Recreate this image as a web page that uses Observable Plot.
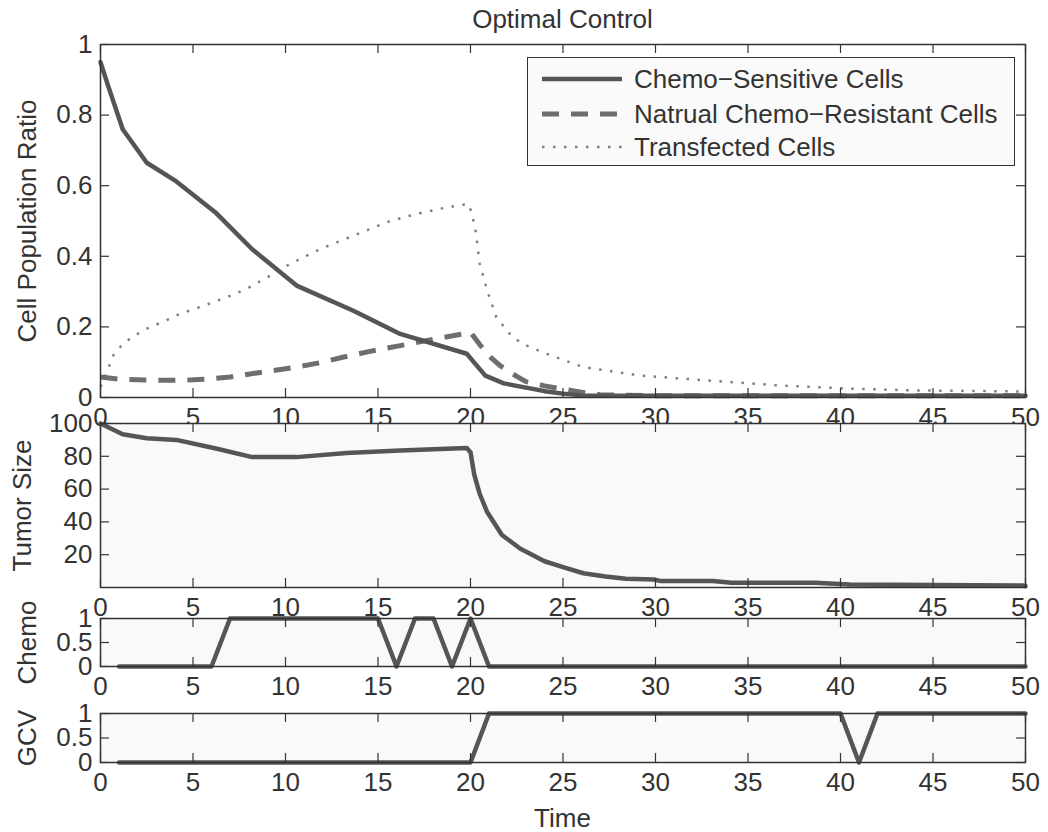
<!DOCTYPE html>
<html>
<head>
<meta charset="utf-8">
<script src="https://cdn.jsdelivr.net/npm/d3@7"></script>
<script src="https://cdn.jsdelivr.net/npm/@observablehq/plot@0.6"></script>
<style>
  body { margin: 0; background: #fff; }
  #wrap { position: relative; width: 1048px; height: 832px; font-family: "Liberation Sans", Arial, sans-serif; color: #333; overflow: hidden; }
  #wrap svg { position: absolute; left: 0; overflow: visible; }
  .txt { position: absolute; font-size: 26px; line-height: 26px; white-space: nowrap; color: #333; }
  #legend { position: absolute; left: 527px; top: 57px; width: 486px; height: 107px; background: #fafafa; border: 1.5px solid #333; }
  #legend .row { position: absolute; left: 0; height: 30px; display: flex; align-items: center; }
  #legend .row svg { position: static; margin-left: 14px; margin-right: 12px; }
  #legend .row span { font-size: 26px; line-height: 30px; }
</style>
</head>
<body>
<div id="wrap"></div>
<script>
// ---------- data ----------
const xTicks = [0, 5, 10, 15, 20, 25, 30, 35, 40, 45, 50];
const ratioTicks = [0, 0.2, 0.4, 0.6, 0.8, 1];
const tumorTicks = [20, 40, 60, 80, 100];
const controlTicks = [0, 0.5, 1];

const seriesNames = ["Chemo\u2212Sensitive Cells", "Natrual Chemo\u2212Resistant Cells", "Transfected Cells"];

const sensT = [0, 0.4, 1.2, 2.5, 4.1, 6.2, 8.2, 10.6, 13.7, 16.2, 19.8, 20.1, 20.8, 21.8, 23, 24, 25, 26, 27, 30, 35, 40, 45, 50];
const sensV = [0.95, 0.885, 0.76, 0.665, 0.612, 0.525, 0.42, 0.317, 0.245, 0.18, 0.124, 0.105, 0.062, 0.04, 0.028, 0.018, 0.011, 0.006, 0.005, 0.005, 0.005, 0.005, 0.005, 0.005];

const resT = [0, 1, 2, 3, 4, 5, 6, 7, 8, 9, 10.6, 12, 13.1, 14.5, 16.2, 18, 19.6, 20, 20.5, 21, 21.6, 22.5, 23, 24, 25, 26, 27, 30, 40, 50];
const resV = [0.058, 0.052, 0.05, 0.049, 0.049, 0.05, 0.053, 0.058, 0.066, 0.074, 0.086, 0.1, 0.114, 0.13, 0.147, 0.165, 0.18, 0.185, 0.15, 0.118, 0.09, 0.06, 0.045, 0.033, 0.024, 0.015, 0.008, 0.005, 0.005, 0.005];

const transT = [0, 0.4, 0.7, 1.0, 1.4, 2.0, 2.5, 3.4, 4.3, 5.2, 6.1, 7.0, 7.9, 9.0, 10.1, 11.0, 11.9, 12.8, 13.7, 14.6, 15.5, 16.5, 17.5, 18.4, 19.3, 19.9, 20.1, 20.3, 20.5, 20.9, 21.4, 22.2, 22.8, 24.1, 26.1, 29.2, 32.9, 36.7, 40.5, 44.2, 50];
const transV = [0.03, 0.08, 0.12, 0.14, 0.16, 0.18, 0.195, 0.215, 0.237, 0.253, 0.27, 0.288, 0.308, 0.34, 0.374, 0.398, 0.421, 0.44, 0.459, 0.478, 0.497, 0.512, 0.525, 0.535, 0.544, 0.548, 0.516, 0.464, 0.379, 0.303, 0.227, 0.175, 0.152, 0.124, 0.086, 0.062, 0.048, 0.034, 0.025, 0.02, 0.017];

const tumorT = [0, 1.2, 2.5, 4.1, 6.3, 8.2, 10.6, 13.3, 16.2, 19.8, 20.0, 20.2, 20.5, 20.9, 21.7, 22.7, 24, 25, 26.1, 27.3, 28.4, 29.9, 30.3, 33.1, 34.1, 38.6, 40.5, 45, 49.9, 50];
const tumorV = [100, 93.5, 91, 90, 84.6, 79.5, 79.5, 82, 83.5, 85, 82.5, 69, 57, 46, 32, 23.6, 16, 12.4, 8.7, 6.7, 5.3, 4.9, 3.9, 3.9, 2.9, 2.9, 1.8, 1.5, 1.2, 0.8];

const ctrlT = [1,2,3,4,5,6,7,8,9,10,11,12,13,14,15,16,17,18,19,20,21,22,23,24,25,26,27,28,29,30,31,32,33,34,35,36,37,38,39,40,41,42,43,44,45,46,47,48,49,50];
const chemoV = [0,0,0,0,0,0,1,1,1,1,1,1,1,1,1,0,1,1,0,1,0,0,0,0,0,0,0,0,0,0,0,0,0,0,0,0,0,0,0,0,0,0,0,0,0,0,0,0,0,0];
const gcvV   = [0,0,0,0,0,0,0,0,0,0,0,0,0,0,0,0,0,0,0,0,1,1,1,1,1,1,1,1,1,1,1,1,1,1,1,1,1,1,1,1,0,1,1,1,1,1,1,1,1,1];

// ---------- helpers ----------
const zip = (t, v) => t.map((d, i) => ({t: d, v: v[i]}));
const W = 1048, ML = 100, MR = 23, TICK = 9, FS = 26;
const INK = "#333";
const styles = {
  solid: {stroke: "#555", strokeWidth: 4.5},
  dashed: {stroke: "#6e6e6e", strokeWidth: 5, strokeDasharray: "17,12", strokeLinecap: "butt"},
  dotted: {stroke: "#7f7f7f", strokeWidth: 2.5, strokeDasharray: "2.5,8.5", strokeLinecap: "butt"}
};

function panel({top, h, yDomain, yTicks, label, labelDx, bg, lines}) {
  const innerW = W - ML - MR;
  const svg = Plot.plot({
    width: W, height: h,
    marginLeft: ML, marginRight: MR, marginTop: 0, marginBottom: 0,
    style: {fontFamily: "Liberation Sans, Arial, sans-serif", fontSize: FS + "px", color: INK, background: "transparent", overflow: "visible"},
    x: {domain: [0, 50]},
    y: {domain: yDomain},
    marks: [
      Plot.frame({fill: bg, stroke: null}),
      ...lines,
      Plot.tickX(xTicks, {x: d => d, insetTop: h - TICK, stroke: INK, strokeWidth: 1.2}),
      Plot.tickX(xTicks, {x: d => d, insetBottom: h - TICK, stroke: INK, strokeWidth: 1.2}),
      Plot.tickY(yTicks, {y: d => d, insetRight: innerW - TICK, stroke: INK, strokeWidth: 1.2}),
      Plot.tickY(yTicks, {y: d => d, insetLeft: innerW - TICK, stroke: INK, strokeWidth: 1.2}),
      Plot.frame({stroke: INK, strokeWidth: 1.5}),
      Plot.axisX({ticks: xTicks, tickSize: 0, tickPadding: 10, tickFormat: d => String(d), label: null, fill: INK, fontSize: FS}),
      Plot.axisY({ticks: yTicks, tickSize: 0, tickPadding: 8, tickFormat: d => String(d), label: null, fill: INK, fontSize: FS}),
      Plot.text([label], {frameAnchor: "left", text: d => d, rotate: -90, dx: labelDx, textAnchor: "middle", lineAnchor: "middle", fontSize: FS, fill: INK})
    ]
  });
  svg.style.top = top + "px";
  return svg;
}

const wrap = document.getElementById("wrap");

// Panel 1: cell population ratios
wrap.appendChild(panel({
  top: 44, h: 353, yDomain: [0, 1], yTicks: ratioTicks,
  label: "Cell Population Ratio", labelDx: -73, bg: "#ffffff",
  lines: [
    Plot.line(zip(transT, transV), {x: "t", y: "v", ...styles.dotted}),
    Plot.line(zip(resT, resV), {x: "t", y: "v", ...styles.dashed}),
    Plot.line(zip(sensT, sensV), {x: "t", y: "v", ...styles.solid})
  ]
}));

// Panel 2: tumor size
wrap.appendChild(panel({
  top: 423, h: 164, yDomain: [0, 100], yTicks: tumorTicks,
  label: "Tumor Size", labelDx: -78, bg: "#f9f9f9",
  lines: [Plot.line(zip(tumorT, tumorV), {x: "t", y: "v", ...styles.solid})]
}));

// Panel 3: chemo control
wrap.appendChild(panel({
  top: 618, h: 48, yDomain: [0, 1], yTicks: controlTicks,
  label: "Chemo", labelDx: -73, bg: "#f9f9f9",
  lines: [Plot.line(zip(ctrlT, chemoV), {x: "t", y: "v", ...styles.solid})]
}));

// Panel 4: GCV control
wrap.appendChild(panel({
  top: 713, h: 49, yDomain: [0, 1], yTicks: controlTicks,
  label: "GCV", labelDx: -73, bg: "#f9f9f9",
  lines: [Plot.line(zip(ctrlT, gcvV), {x: "t", y: "v", ...styles.solid})]
}));

// Title and x label
const title = document.createElement("div");
title.className = "txt";
title.textContent = "Optimal Control";
title.style.left = "0px"; title.style.width = "1125px"; title.style.textAlign = "center"; title.style.top = "6px";
wrap.appendChild(title);

const xlab = document.createElement("div");
xlab.className = "txt";
xlab.textContent = "Time";
xlab.style.left = "0px"; xlab.style.width = "1125px"; xlab.style.textAlign = "center"; xlab.style.top = "805px";
wrap.appendChild(xlab);

// Legend
const legend = document.createElement("div");
legend.id = "legend";
const rowTops = [6, 41, 74];
const legStyles = [styles.solid, styles.dashed, styles.dotted];
seriesNames.forEach((name, i) => {
  const row = document.createElement("div");
  row.className = "row";
  row.style.top = rowTops[i] + "px";
  const s = legStyles[i];
  row.innerHTML = `<svg width="80" height="12"><line x1="0" x2="80" y1="6" y2="6" stroke="${s.stroke}" stroke-width="${s.strokeWidth}" ${s.strokeDasharray ? `stroke-dasharray="${s.strokeDasharray}"` : ""} stroke-linecap="butt"/></svg><span>${name}</span>`;
  legend.appendChild(row);
});
wrap.appendChild(legend);
</script>
</body>
</html>
